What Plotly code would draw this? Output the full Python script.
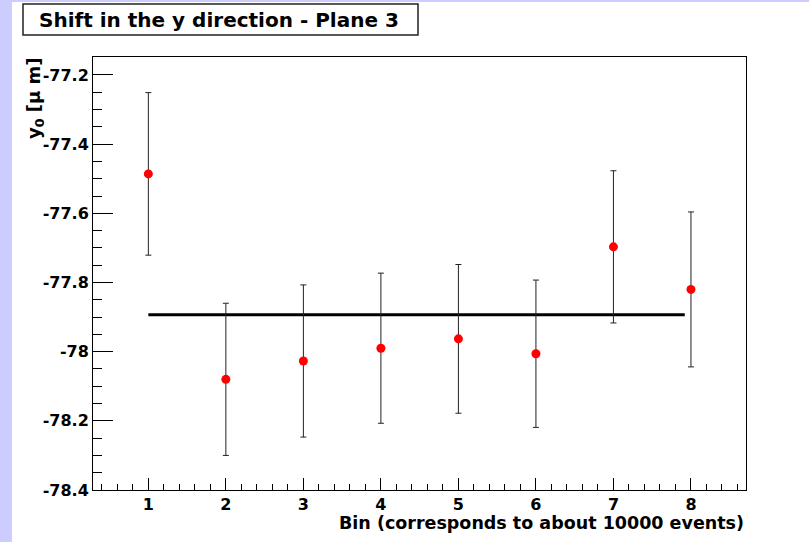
import plotly.graph_objects as go

# ---- data ----
bins = [1, 2, 3, 4, 5, 6, 7, 8]
y0_values = [-77.486, -78.080, -78.027, -77.990, -77.963, -78.006, -77.697, -77.820]
y0_errors = [0.235, 0.220, 0.220, 0.217, 0.215, 0.213, 0.220, 0.224]
fit_value = -77.893
fit_range = [1.0, 7.92]
y_tickvals = [-77.2, -77.4, -77.6, -77.8, -78.0, -78.2, -78.4]
y_ticktext = ["-77.2", "-77.4", "-77.6", "-77.8", "-78", "-78.2", "-78.4"]
x_tickvals = [1, 2, 3, 4, 5, 6, 7, 8]
x_ticktext = ["1", "2", "3", "4", "5", "6", "7", "8"]

W, H = 809, 542
L, R, T, B = 93, 746, 57, 490  # plot area pixel bounds


def px(xp):
    return (xp - L) / (R - L)


def py(yp):
    return (B - yp) / (B - T)


FONT = "DejaVu Sans, Liberation Sans, Arial, sans-serif"

fig = go.Figure()

fig.add_trace(go.Scatter(
    x=fit_range, y=[fit_value, fit_value], mode="lines",
    line=dict(color="black", width=3), showlegend=False, hoverinfo="skip"))

fig.add_trace(go.Scatter(
    x=bins, y=y0_values, mode="markers",
    marker=dict(color="#ff0000", size=9, symbol="circle"),
    error_y=dict(type="data", array=y0_errors, visible=True,
                 color="#222222", thickness=1, width=3),
    showlegend=False))

fig.update_layout(
    width=W, height=H,
    margin=dict(l=L, r=W - R, t=T, b=H - B, pad=0),
    paper_bgcolor="#ccccff",
    plot_bgcolor="white",
    font=dict(family=FONT, color="black"),
    showlegend=False,
)

# white canvas over the lavender page (left strip and thin top strip stay lavender)
fig.add_shape(type="rect", xref="paper", yref="paper", layer="below",
              x0=px(12), x1=px(W + 5), y0=py(H + 5), y1=py(2),
              fillcolor="white", line=dict(width=0))

fig.update_xaxes(
    range=[0.286, 8.71],
    tickvals=x_tickvals, ticktext=x_ticktext,
    ticks="inside", ticklen=12, tickwidth=1, tickcolor="black",
    minor=dict(dtick=0.2, tick0=0, ticks="inside", ticklen=6, tickwidth=1, tickcolor="black"),
    showline=True, linecolor="black", linewidth=1, mirror=True,
    showgrid=False, zeroline=False,
    tickfont=dict(family=FONT, size=16, weight="bold"),
)
fig.update_yaxes(
    range=[-78.4, -77.148],
    tickvals=y_tickvals, ticktext=y_ticktext,
    ticks="inside", ticklen=20, tickwidth=1, tickcolor="black",
    minor=dict(dtick=0.05, tick0=0, ticks="inside", ticklen=9, tickwidth=1, tickcolor="black"),
    showline=True, linecolor="black", linewidth=1, mirror=True,
    showgrid=False, zeroline=False,
    tickfont=dict(family=FONT, size=16, weight="bold"),
)

# title box
fig.add_shape(type="rect", xref="paper", yref="paper",
              x0=px(23), x1=px(418), y0=py(35), y1=py(4),
              fillcolor="white", line=dict(color="#222222", width=1.5))
fig.add_annotation(xref="paper", yref="paper", x=px(219), y=py(20),
                   text="Shift in the y direction - Plane 3", showarrow=False,
                   xanchor="center", yanchor="middle",
                   font=dict(family=FONT, size=20, weight="bold"))

# axis titles
fig.add_annotation(xref="paper", yref="paper", x=px(R), y=py(523),
                   text="Bin (corresponds to about 10000 events)", showarrow=False,
                   xanchor="right", yanchor="middle",
                   font=dict(family=FONT, size=17.5, weight="bold"))
fig.add_annotation(xref="paper", yref="paper", x=px(35), y=py(55),
                   text="y<sub>0</sub> [μ m]", showarrow=False, textangle=-90,
                   xanchor="center", yanchor="top",
                   font=dict(family=FONT, size=18, weight="bold"))

fig.write_html("out.html")
